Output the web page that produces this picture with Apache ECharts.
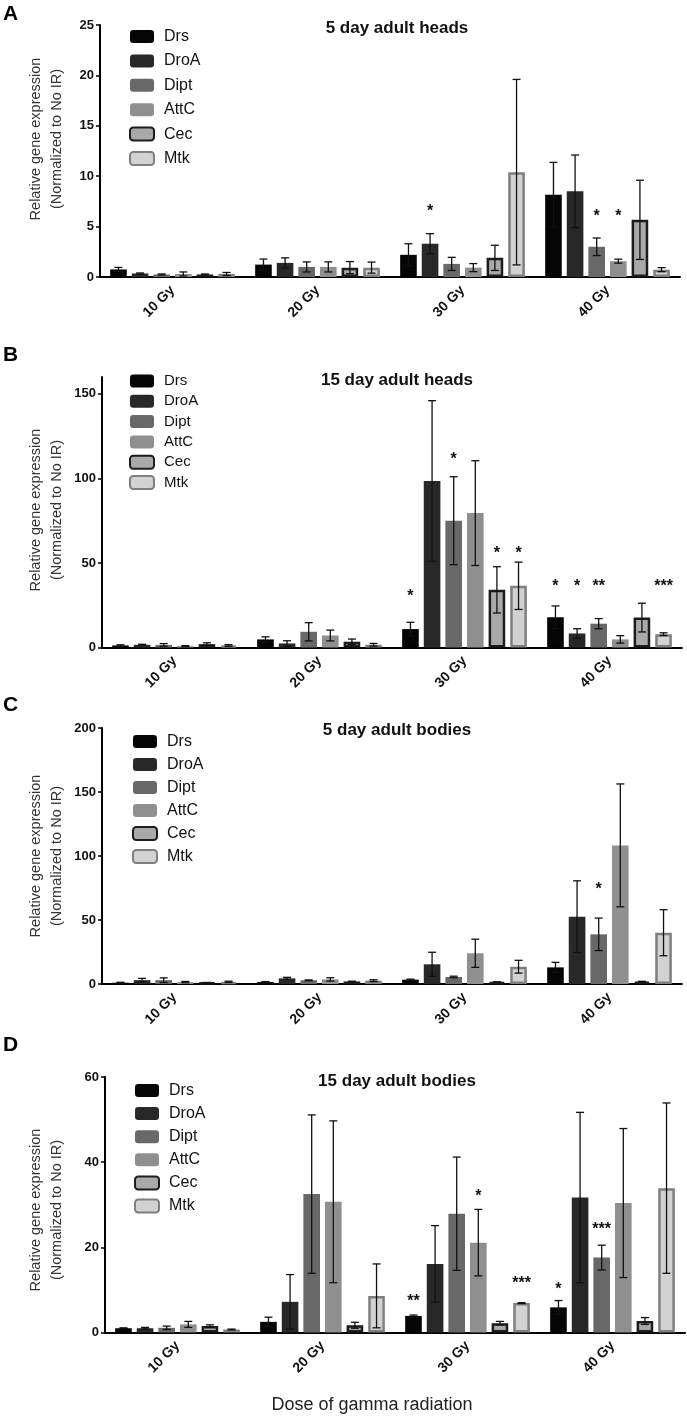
<!DOCTYPE html>
<html><head><meta charset="utf-8">
<script src="https://cdn.jsdelivr.net/npm/echarts@6/dist/echarts.min.js"></script>
<style>html,body{margin:0;padding:0;background:#fff}#c{width:687px;height:1420px}</style>
</head><body><div id="c"></div>
<script>
// ---------- data ----------
const genes = ['Drs','DroA','Dipt','AttC','Cec','Mtk'];
const doses = ['10 Gy','20 Gy','30 Gy','40 Gy'];
const panelTitles = ['5 day adult heads','15 day adult heads','5 day adult bodies','15 day adult bodies'];
const panelLetters = ['A','B','C','D'];
const yMaxes = [25,160,200,60];
const yTicksA = [0,5,10,15,20,25];
const yTicksB = [0,50,100,150];
const yTicksC = [0,50,100,150,200];
const yTicksD = [0,20,40,60];

// rows: genes (Drs, DroA, Dipt, AttC, Cec, Mtk); columns: doses (10,20,30,40 Gy)
const meanA = [
  [0.75,1.23,2.2,8.17],
  [0.35,1.4,3.3,8.5],
  [0.25,1.0,1.3,3.0],
  [0.3,1.0,0.93,1.57],
  [0.25,0.93,1.9,5.67],
  [0.3,0.93,10.4,0.73]];
const errA = [
  [0.2,0.55,1.1,3.2],
  [0.05,0.5,1.0,3.6],
  [0.05,0.5,0.65,0.87],
  [0.2,0.5,0.4,0.2],
  [0.05,0.6,1.25,3.93],
  [0.15,0.55,9.2,0.2]];
// [gene, dose, label, height]
const starsA = [[1,2,'*',6.8],[2,3,'*',6.3],[3,3,'*',6.3]];

const meanB = [
  [1.2,4.8,10.9,17.9],
  [1.6,2.4,98.5,8.3],
  [1.5,9.3,75,14.1],
  [0.8,7.1,79.5,4.8],
  [2.0,3.4,34.1,17.7],
  [1.2,1.6,36.5,7.9]];
const errB = [
  [0.4,1.5,4.0,6.7],
  [0.3,1.6,47.5,2.8],
  [0.8,5.4,26,3],
  [0.3,3.2,31,2.2],
  [0.8,1.6,13.7,8.5],
  [0.5,0.8,14,0.8]];
const starsB = [[0,2,'*',31.7],[2,2,'*',112.8],[4,2,'*',57.5],[5,2,'*',57.5],
  [0,3,'*',37.7],[1,3,'*',37.7],[2,3,'**',37.7],[5,3,'***',37.7]];

const meanC = [
  [1.0,1.6,3.4,13],
  [3.0,4.4,15.4,52.6],
  [3.0,2.9,5.5,38.8],
  [1.5,3.6,24,108.3],
  [1.0,2.0,1.5,1.8],
  [1.7,2.6,13.5,40.1]];
const errC = [
  [0.3,0.3,0.4,3.9],
  [1.4,0.8,9.4,28],
  [1.8,0.3,0.6,12.7],
  [0.5,1.3,11,48],
  [0.2,0.2,0.2,0.3],
  [0.5,0.7,5,18]];
const starsC = [[2,3,'*',76]];

const meanD = [
  [1.0,2.5,3.9,5.9],
  [1.0,7.2,16.1,31.7],
  [1.1,32.5,27.9,17.6],
  [1.9,30.7,21.1,30.4],
  [1.5,1.7,2.2,2.7],
  [0.7,8.6,6.9,33.9]];
const errD = [
  [0.1,1.1,0.2,1.6],
  [0.2,6.4,9,20],
  [0.4,18.6,13.3,2.9],
  [0.7,19,7.8,17.5],
  [0.3,0.7,0.4,0.8],
  [0.1,7.5,0.1,20]];
const starsD = [[0,2,'**',8.0],[3,2,'*',32.7],[5,2,'***',12.3],[0,3,'*',10.8],[2,3,'***',24.8]];

// ---------- styles / layout ----------
const FONT = "'Liberation Sans', Arial, Helvetica, sans-serif";
const geneStyles = [
  {color:'#050505'},
  {color:'#282828'},
  {color:'#686868'},
  {color:'#8f8f8f'},
  {color:'#a9a9a9', borderColor:'#1c1c1c', borderWidth:2.5},
  {color:'#d2d2d2', borderColor:'#7f7f7f', borderWidth:2.5}
];
const CAT_GAP = 0.14, BAR_GAP = 0.3;

const panels = [
  {mean:meanA, err:errA, stars:starsA, ticks:yTicksA, left:100, top:25, height:252,
   titleY:28, letterY:4, nameY:139, legTop:28.5, legLeft:129, legGap:8.4, legFont:16},
  {mean:meanB, err:errB, stars:starsB, ticks:yTicksB, left:102, top:377, height:270.5,
   titleY:380, letterY:345, nameY:510, legTop:373.5, legLeft:129, legGap:5.3, legFont:15},
  {mean:meanC, err:errC, stars:starsC, ticks:yTicksC, left:102, top:728, height:256,
   titleY:730, letterY:695, nameY:856, legTop:733.5, legLeft:132, legGap:7, legFont:16},
  {mean:meanD, err:errD, stars:starsD, ticks:yTicksD, left:105, top:1077, height:255.5,
   titleY:1081, letterY:1035, nameY:1210, legTop:1082.5, legLeft:134, legGap:7.1, legFont:16}
];

const grid = [], xAxis = [], yAxis = [], series = [], legend = [], graphic = [];

function barX(api, d, g){
  const c = api.coord([d, 0]);
  const band = api.size([1, 0])[0];
  const bw = band * (1 - CAT_GAP) / (6 + 5 * BAR_GAP);
  return c[0] + (g - 2.5) * bw * (1 + BAR_GAP);
}

panels.forEach((p, pi) => {
  grid.push({left:p.left, top:p.top, width:580, height:p.height, containLabel:false});
  xAxis.push({
    type:'category', gridIndex:pi, data:doses,
    axisLine:{lineStyle:{color:'#000', width:2}},
    axisTick:{alignWithLabel:true, length:6, lineStyle:{color:'#000', width:2}},
    axisLabel:{rotate:45, margin:11, fontSize:14, fontWeight:'bold', color:'#111', fontFamily:FONT}
  });
  yAxis.push({
    type:'value', gridIndex:pi, min:0, max:yMaxes[pi],
    axisLine:{show:true, lineStyle:{color:'#000', width:2}},
    axisTick:{show:true, length:4, lineStyle:{color:'#000', width:1.5}, customValues:p.ticks},
    axisLabel:{fontSize:13, fontWeight:'bold', color:'#111', margin:6, fontFamily:FONT, customValues:p.ticks},
    splitLine:{show:false}
  });
  genes.forEach((g, gi) => {
    series.push({
      type:'bar', name:g, xAxisIndex:pi, yAxisIndex:pi,
      data:p.mean[gi], barCategoryGap:(CAT_GAP*100)+'%', barGap:(BAR_GAP*100)+'%',
      itemStyle:Object.assign({}, geneStyles[gi]), z:2
    });
  });
  // error bars
  const errData = [];
  genes.forEach((g, gi) => doses.forEach((d, di) => errData.push([di, gi, p.mean[gi][di], p.err[gi][di]])));
  series.push({
    type:'custom', name:'err'+pi, xAxisIndex:pi, yAxisIndex:pi, z:5, silent:true,
    encode:{x:0, y:2},
    data:errData,
    renderItem:function(params, api){
      const d = api.value(0), g = api.value(1), m = api.value(2), e = api.value(3);
      const x = barX(api, d, g);
      const yt = api.coord([d, m + e])[1];
      const yb = api.coord([d, Math.max(m - e, 0)])[1];
      const cap = 4;
      const st = {stroke:'#111', lineWidth:1.3};
      return {type:'group', children:[
        {type:'line', shape:{x1:x, y1:yt, x2:x, y2:yb}, style:st},
        {type:'line', shape:{x1:x-cap, y1:yt, x2:x+cap, y2:yt}, style:st},
        {type:'line', shape:{x1:x-cap, y1:yb, x2:x+cap, y2:yb}, style:st}
      ]};
    }
  });
  // significance stars
  const starData = p.stars.map(s => [s[0], s[1], s[3]]);
  series.push({
    type:'custom', name:'stars'+pi, xAxisIndex:pi, yAxisIndex:pi, z:6, silent:true,
    encode:{x:1, y:2},
    data:starData,
    renderItem:function(params, api){
      const g = api.value(0), d = api.value(1), h = api.value(2);
      const x = barX(api, d, g);
      const y = api.coord([d, h])[1];
      return {type:'text', x:x, y:y + 3, style:{text:p.stars[params.dataIndex][2], align:'center',
        verticalAlign:'middle', font:'bold 16px ' + FONT, fill:'#111'}};
    }
  });
  legend.push({
    data:genes, orient:'vertical', left:p.legLeft, top:p.legTop, itemWidth:24, itemHeight:13,
    itemGap:p.legGap, icon:'roundRect', selectedMode:false, padding:0,
    textStyle:{fontSize:p.legFont, color:'#111', fontFamily:FONT, padding:[0,0,0,5]}
  });
  graphic.push({type:'text', left:3, top:p.letterY, style:{text:panelLetters[pi], font:'bold 21px ' + FONT, fill:'#000'}});
  graphic.push({type:'text', x:397, y:p.titleY, style:{text:panelTitles[pi], align:'center', verticalAlign:'middle',
    font:'bold 17px ' + FONT, fill:'#111'}});
  graphic.push({type:'text', x:46, y:p.nameY, rotation:Math.PI/2, style:{text:'Relative gene expression\n(Normalized to No IR)',
    align:'center', verticalAlign:'middle', font:'14.5px ' + FONT, lineHeight:21, fill:'#333'}});
});
graphic.push({type:'text', x:372, y:1405, style:{text:'Dose of gamma radiation', align:'center', verticalAlign:'middle',
  font:'18px ' + FONT, fill:'#222'}});

const chart = echarts.init(document.getElementById('c'));
chart.setOption({
  animation:false,
  backgroundColor:'#fff',
  textStyle:{fontFamily:FONT},
  grid, xAxis, yAxis, series, legend, graphic
});
</script>
</body></html>
